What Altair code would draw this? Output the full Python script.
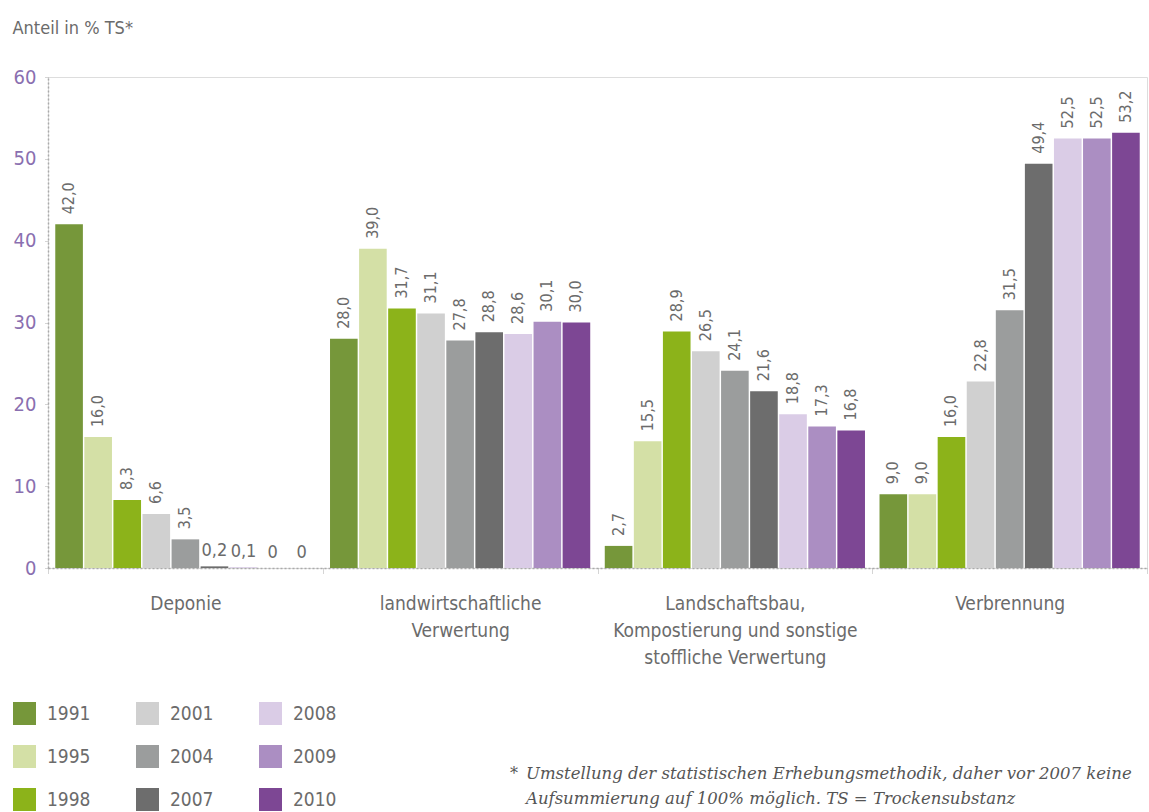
import altair as alt
import pandas as pd

categories = ["Deponie", "landwirtschaftliche|Verwertung",
              "Landschaftsbau,|Kompostierung und sonstige|stoffliche Verwertung",
              "Verbrennung"]
years = ["1991", "1995", "1998", "2001", "2004", "2007", "2008", "2009", "2010"]
colors = ["#76973a", "#d4e0a6", "#8cb31a", "#d0d0d0", "#9b9d9d", "#6d6d6d",
          "#dacce6", "#ab8ec2", "#7d4794"]

deponie = [42.0, 16.0, 8.3, 6.6, 3.5, 0.2, 0.1, 0, 0]
landwirtschaft = [28.0, 39.0, 31.7, 31.1, 27.8, 28.8, 28.6, 30.1, 30.0]
landschaftsbau = [2.7, 15.5, 28.9, 26.5, 24.1, 21.6, 18.8, 17.3, 16.8]
verbrennung = [9.0, 9.0, 16.0, 22.8, 31.5, 49.4, 52.5, 52.5, 53.2]

y_ticks = [0, 10, 20, 30, 40, 50, 60]
footnote = ["Umstellung der statistischen Erhebungsmethodik, daher vor 2007 keine",
            "Aufsummierung auf 100% möglich. TS = Trockensubstanz"]

series = [deponie, landwirtschaft, landschaftsbau, verbrennung]
rows = []
for cat, vals in zip(categories, series):
    for yr, v in zip(years, vals):
        if v == 0:
            lab = "0"
        else:
            lab = f"{v:.1f}".replace(".", ",")
        rows.append({"cat": cat, "year": yr, "value": v, "label": lab})
df = pd.DataFrame(rows)

FONT = "DejaVu Sans Condensed, Liberation Sans Narrow, Roboto Condensed, Roboto, sans-serif"
GRAY = "#6b6b6b"
PURPLE = "#8a6fb0"

x_enc = alt.X("cat:N", sort=categories,
              scale=alt.Scale(paddingInner=0, paddingOuter=0),
              axis=alt.Axis(title=None, labelAngle=0,
                            labelExpr="split(datum.label, '|')",
                            labelFontSize=19, labelColor=GRAY, labelFont=FONT,
                            labelLineHeight=27, labelPadding=21, labelLimit=400,
                            labelBaseline="top",
                            tickBand="extent", tickSize=5, tickColor="#aaaaaa",
                            tickDash=[1, 1],
                            domainColor="#aaaaaa", domainDash=[2, 2],
                            domainWidth=1.5))
xoff = alt.XOffset("year:N", sort=years,
                   scale=alt.Scale(paddingInner=0.05, paddingOuter=0.25))

base = alt.Chart(df)

bars = base.mark_bar().encode(
    x=x_enc,
    xOffset=xoff,
    y=alt.Y("value:Q",
            scale=alt.Scale(domain=[0, 60], nice=False),
            axis=alt.Axis(values=y_ticks, grid=False,
                          title="Anteil in % TS*", titleAngle=0,
                          titleAlign="left", titleBaseline="middle",
                          titleX=-36, titleY=-49, titleFontSize=18,
                          titleFontWeight="normal", titleColor=GRAY, titleFont=FONT,
                          labelFontSize=20, labelColor=PURPLE, labelFont=FONT,
                          labelPadding=8,
                          tickSize=4, tickColor="#aaaaaa", tickDash=[1, 1],
                          domainColor="#aaaaaa", domainDash=[2, 2],
                          domainWidth=1.5)),
    color=alt.Color("year:N",
                    scale=alt.Scale(domain=years, range=colors),
                    legend=alt.Legend(title=None, orient="none",
                                      legendX=-35, legendY=625,
                                      columns=3, columnPadding=45,
                                      rowPadding=20, padding=0,
                                      symbolType="square", symbolSize=529,
                                      symbolStrokeWidth=0, symbolOpacity=1,
                                      labelFontSize=19, labelColor=GRAY,
                                      labelFont=FONT, labelOffset=11)),
)

rot_labels = base.transform_filter("datum.value >= 1").mark_text(
    angle=270, align="left", baseline="middle", dx=10,
    fontSize=16, color=GRAY, font=FONT
).encode(x=alt.X("cat:N", sort=categories), xOffset=xoff,
         y="value:Q", text="label:N")

flat_labels = base.transform_filter("datum.value < 1").mark_text(
    align="center", baseline="bottom", dy=-6,
    fontSize=18, color=GRAY, font=FONT
).encode(x=alt.X("cat:N", sort=categories), xOffset=xoff,
         y="value:Q", text="label:N")

star = alt.Chart(pd.DataFrame({"t": ["*"]})).mark_text(
    align="left", baseline="top", fontSize=16, fontStyle="italic",
    font="DejaVu Serif", color="#555555"
).encode(x=alt.value(462), y=alt.value(689), text="t:N")

note = alt.Chart(pd.DataFrame({"t": [footnote]})).mark_text(
    align="left", baseline="top", fontSize=16.5, fontStyle="italic",
    font="DejaVu Serif, Liberation Serif, serif", color="#555555", lineHeight=25
).encode(x=alt.value(478), y=alt.value(689), text="t:N")

chart = alt.layer(bars, rot_labels, flat_labels, star, note).properties(
    width=1099, height=491,
    autosize=alt.AutoSizeParams(type="none"),
    padding={"left": 48, "top": 77, "right": 2, "bottom": 244},
).configure_view(stroke=None).configure(font=FONT)

chart.save("out.html", embed_options={"renderer": "svg", "actions": False})
